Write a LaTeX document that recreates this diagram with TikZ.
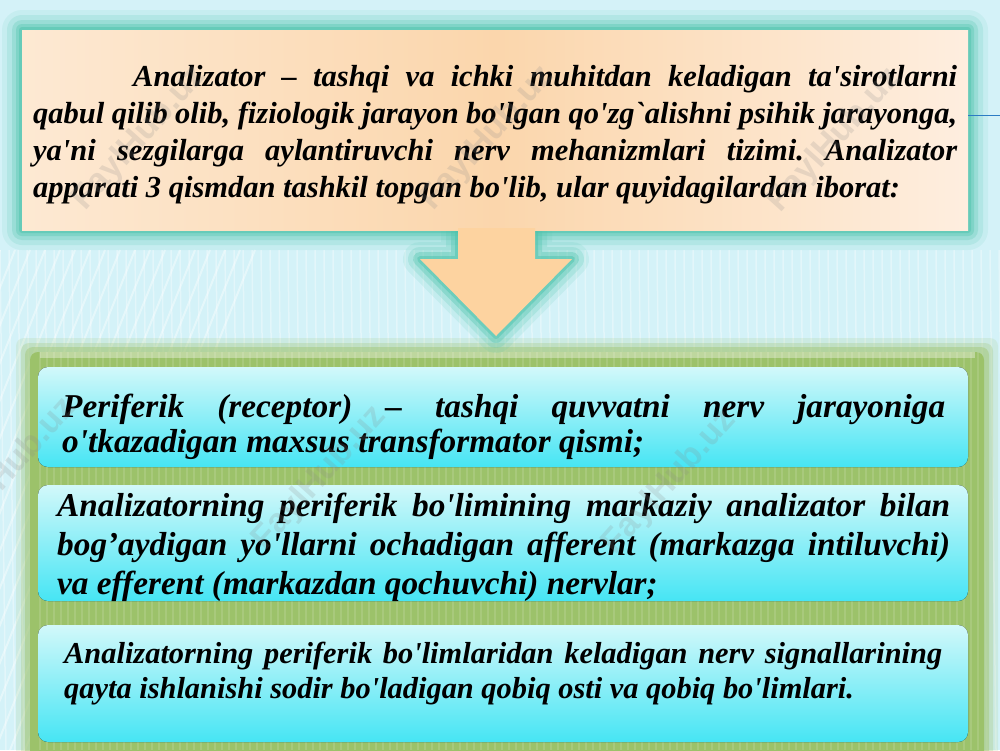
\documentclass[tikz,border=0pt]{standalone}
\usepackage{fontspec}
\setmainfont{Liberation Serif}[Ligatures=TeXOff]
\setsansfont{Liberation Sans}
\usetikzlibrary{calc}
\frenchspacing
\definecolor{bgcyan}{HTML}{D4F2F8}
\definecolor{tealglow}{HTML}{4FC4AC}
\definecolor{peachL}{HTML}{FDE9D3}
\definecolor{peachM}{HTML}{FBD6AC}
\definecolor{peachR}{HTML}{FEEEDF}
\definecolor{arrowcol}{HTML}{FDD3A0}
\definecolor{bandgreen}{HTML}{9CC26A}
\definecolor{cyantop}{HTML}{D2F8FA}
\definecolor{cyanbot}{HTML}{46E5F4}
\definecolor{wmark}{HTML}{8A8A8A}
\definecolor{blueline}{HTML}{2C7CC4}
\tikzset{
  cyanbox/.style={top color=cyantop,bottom color=cyanbot,rounded corners=10pt,draw=none},
  bodytext/.style={inner sep=0pt,align=justify,text=black,anchor=north west},
  watermark/.style={rotate=48,text=wmark,opacity=0.2,font=\bfseries\sffamily\fontsize{34}{34}\selectfont},
}
\begin{document}
\frenchspacing
\begin{tikzpicture}[x=1pt,y=-1pt]
\useasboundingbox (0,0) rectangle (1000,750);
% background
\fill[bgcyan] (0,0) rectangle (1000,750);
\foreach \i in {0,9,...,1000}
  \draw[white,opacity=0.35,line width=1.5pt] (\i,250) -- (\i+6,750);
\foreach \i in {-200,-185,...,60}
  \draw[white,opacity=0.4,line width=2pt] (\i,750) -- (\i+200,250);
% green band behind the lower boxes
\foreach \d/\o in {14/0.15,9/0.25,5/0.4,0/1}
  \fill[bandgreen,opacity=\o,rounded corners=8pt] (30-\d,352-\d) rectangle (984+\d,760);
\foreach \i in {40,47,...,980}
  \draw[white,opacity=0.12,line width=1.2pt] (\i,352) -- (\i,750);
\fill[white,opacity=0.35] (40,352) rectangle (975,358);
% glow around the top box
\foreach \d/\o in {20/0.10,15/0.16,10/0.25,6/0.35,3/0.5}
  \fill[tealglow,opacity=\o,rounded corners=\d pt] (22-\d,30-\d) rectangle (968+\d,230+\d);
% arrow glow
\foreach \w/\o in {34/0.12,24/0.2,14/0.35,6/0.5}
  \draw[tealglow,opacity=\o,line width=\w pt,line join=round]
    (458,232) -- (535,232) -- (535,259) -- (572,259) -- (496,336) -- (420,259) -- (458,259) -- cycle;
% top box
\shade[left color=peachL,right color=peachR,middle color=peachM] (22,30) rectangle (968,230);
% blue line at right
\draw[blueline,line width=1pt] (968,115) -- (1000,115);
% arrow
\fill[arrowcol] (458,228) -- (535,228) -- (535,259) -- (572,259) -- (496,336) -- (420,259) -- (458,259) -- cycle;
% lower boxes
\fill[cyanbox] (38,367) rectangle (968,467);
\fill[cyanbox] (38,485) rectangle (968,601);
\fill[cyanbox] (38,625) rectangle (968,742);
% texts
\node[bodytext,text width=924pt,font=\fontsize{30.5}{37}\selectfont\bfseries\itshape] (intro) at (33,65)
  {\hspace*{100pt}Analizator – tashqi va ichki muhitdan keladigan ta'sirotlarni\linebreak qabul qilib olib, fiziologik jarayon bo'lgan qo'zg`alishni psihik jarayonga,\linebreak ya'ni sezgilarga aylantiruvchi nerv mehanizmlari tizimi. Analizator\linebreak apparati 3 qismdan tashkil topgan bo'lib, ular quyidagilardan iborat:};
\node[bodytext,text width=883pt,font=\fontsize{33.3}{35}\selectfont\bfseries\itshape] (periferik) at (62,394)
  {Periferik (receptor) – tashqi quvvatni nerv jarayoniga\linebreak o'tkazadigan maxsus transformator qismi;};
\node[bodytext,text width=893pt,font=\fontsize{33.3}{39}\selectfont\bfseries\itshape] (yollar) at (57,493)
  {Analizatorning periferik bo'limining markaziy analizator bilan\linebreak bog’aydigan yo'llarni ochadigan afferent (markazga intiluvchi)\linebreak va efferent (markazdan qochuvchi) nervlar;};
\node[bodytext,text width=878pt,font=\fontsize{30.4}{35}\selectfont\bfseries\itshape] (markaz) at (64,642)
  {Analizatorning periferik bo'limlaridan keladigan nerv signallarining\linebreak qayta ishlanishi sodir bo'ladigan qobiq osti va qobiq bo'limlari.};
% watermarks
\node[watermark] (w1) at (140,138) {FaylHub.uz};
\node[watermark] (w2) at (488,138) {FaylHub.uz};
\node[watermark] (w3) at (835,140) {FaylHub.uz};
\node[watermark] (w4) at (10,470) {FaylHub.uz};
\node[watermark] (w5) at (320,478) {FaylHub.uz};
\node[watermark] (w6) at (670,482) {FaylHub.uz};
\end{tikzpicture}
\end{document}
